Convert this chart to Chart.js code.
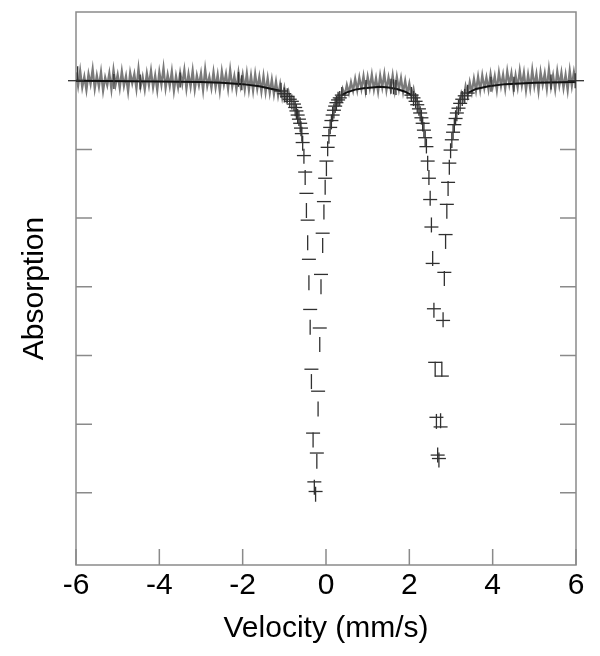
<!DOCTYPE html>
<html>
<head>
<meta charset="utf-8">
<script src="https://cdn.jsdelivr.net/npm/chart.js@4.4.1/dist/chart.umd.min.js"></script>
<style>
  html, body { margin: 0; padding: 0; background: #fff; }
  #chart { display: block; }
</style>
</head>
<body>
<canvas id="chart" width="600" height="656"></canvas>
<script>
// Mossbauer spectrum - velocity in mm/s, absorption in arbitrary units (0 = baseline)

// grey measured trace, one value per grid channel (null = hidden under the dip markers)
const VEL_START = -6;
const VEL_STEP = 0.05;
const greyAbs = [
  0.12, -0.08, 0.15, -0.10, 0.06, -0.14, 0.10, -0.05, 0.17, -0.12, 0.08, -0.09, 0.13, -0.15, 0.05, -0.07, 0.11, -0.13, 0.16, -0.06,
  0.09, -0.11, 0.14, -0.08, 0.07, -0.16, 0.12, -0.04, 0.10, -0.12, 0.18, -0.09, 0.06, -0.13, 0.11, -0.07, 0.15, -0.10, 0.08, -0.14,
  0.13, -0.06, 0.19, -0.11, 0.09, -0.08, 0.14, -0.15, 0.07, -0.10, 0.12, -0.05, 0.16, -0.12, 0.10, -0.09, 0.15, -0.13, 0.08, -0.07,
  0.11, -0.14, 0.17, -0.08, 0.06, -0.11, 0.13, -0.10, 0.09, -0.15, 0.14, -0.06, 0.10, -0.12, 0.16, -0.09, 0.07, -0.13, 0.12, -0.08,
  0.09, -0.13, 0.11, -0.14, 0.08, -0.15, 0.10, -0.12, 0.06, -0.16, 0.07, -0.17, 0.04, -0.18, 0.02, -0.20, -0.01, -0.22, -0.05, -0.25,
  -0.10, -0.28, -0.16, -0.30,
  null, null, null, null, null, null, null, null, null, null, null, null, null, null, null, null, null, null, null, null, null,
  -0.36, -0.22, -0.28, -0.12, -0.21, -0.06, -0.18, -0.02, -0.15, 0.03, -0.14, 0.05, -0.12, 0.07, -0.15, 0.06, -0.11, 0.09, -0.13, 0.04,
  -0.16, 0.08, -0.10, 0.10, -0.14, 0.05, -0.12, 0.08, -0.15, 0.06, -0.13, 0.04, -0.17, 0.00, -0.19, -0.04, -0.23, -0.12, -0.30, -0.20,
  null, null, null, null, null, null, null, null, null, null, null, null, null, null, null, null, null, null, null,
  -0.34, -0.18, -0.27, -0.08, -0.22, -0.02, -0.17, 0.03, -0.15, 0.06, -0.14, 0.08, -0.11, 0.05, -0.13, 0.10,
  -0.09, 0.07, -0.14, 0.12, -0.08, 0.09, -0.12, 0.14, -0.06, 0.11, -0.13, 0.08, -0.10, 0.15, -0.07, 0.12, -0.14, 0.09, -0.11, 0.16,
  -0.08, 0.10, -0.15, 0.13, -0.06, 0.11, -0.12, 0.17, -0.09, 0.08, -0.13, 0.14, -0.07, 0.12, -0.11, 0.09, -0.14, 0.15, -0.08, 0.13,
  -0.05
];

// fitted curve over the flat parts
const fitLineVel = [-6, -4, -3, -2.5, -2, -1.6, -1.3, -1.08, null,
  0.38, 0.5, 0.7, 0.9, 1.1, 1.3, 1.5, 1.7, 1.9, 2.05, null,
  3.4, 3.6, 3.9, 4.3, 5, 6];
const fitLineAbs = [0, -0.01, -0.02, -0.03, -0.05, -0.08, -0.12, -0.15, null,
  -0.21, -0.17, -0.13, -0.11, -0.10, -0.09, -0.10, -0.12, -0.16, -0.21, null,
  -0.18, -0.12, -0.08, -0.05, -0.03, -0.02];

// channels inside the two absorption lines
const dipVel = [
  -1.08, -1.00, -0.93, -0.87, -0.82, -0.77, -0.74, -0.71, -0.68, -0.65, -0.62, -0.60, -0.58, -0.56, -0.53,
  -0.50, -0.47, -0.44, -0.41, -0.38, -0.35, -0.31, -0.28, -0.25,
  -0.22, -0.19, -0.15, -0.12, -0.08, -0.05, -0.02, 0.01, 0.04, 0.07, 0.10, 0.13, 0.16, 0.19, 0.22, 0.25, 0.29, 0.33, 0.38,
  2.05, 2.10, 2.15, 2.19, 2.23, 2.26, 2.29, 2.32, 2.35, 2.38, 2.41, 2.44, 2.47, 2.50, 2.53, 2.56, 2.59, 2.62, 2.65, 2.68, 2.71,
  2.75, 2.78, 2.81, 2.84, 2.87, 2.90, 2.93, 2.96, 2.99, 3.02, 3.05, 3.08, 3.11, 3.14, 3.18, 3.22, 3.27, 3.33, 3.40
];
// fitted value per channel (horizontal marks)
const dipFit = [
  -0.15, -0.19, -0.23, -0.27, -0.30, -0.34, -0.39, -0.44, -0.50, -0.56, -0.62, -0.69, -0.77, -0.90, -1.09,
  -1.33, -1.64, -2.03, -2.60, -3.33, -4.20, -5.13, -5.84, -5.98,
  -5.42, -4.52, -3.60, -2.82, -2.22, -1.76, -1.42, -1.17, -0.97, -0.80, -0.68, -0.58, -0.50, -0.43, -0.37, -0.32, -0.28, -0.25, -0.21,
  -0.21, -0.25, -0.30, -0.35, -0.41, -0.47, -0.54, -0.62, -0.72, -0.83, -0.96, -1.17, -1.42, -1.73, -2.13, -2.66, -3.32, -4.10, -4.90, -5.45, -5.50,
  -5.04, -4.30, -3.49, -2.79, -2.24, -1.80, -1.48, -1.20, -1.01, -0.86, -0.75, -0.64, -0.55, -0.47, -0.40, -0.33, -0.27, -0.22, -0.18
];
// measured value per channel (vertical error marks)
const dipObs = [
  -0.14, -0.21, -0.22, -0.29, -0.31, -0.33, -0.41, -0.45, -0.52, -0.55, -0.64, -0.70, -0.78, -0.91, -1.10,
  -1.41, -1.89, -2.36, -2.94, -3.59, -4.38, -5.23, -5.92, -6.02,
  -5.54, -4.78, -3.84, -3.00, -2.40, -1.91, -1.55, -1.28, -0.99, -0.81, -0.67, -0.60, -0.49, -0.44, -0.36, -0.33, -0.27, -0.26, -0.20,
  -0.20, -0.26, -0.29, -0.36, -0.40, -0.48, -0.53, -0.63, -0.71, -0.84, -0.95, -1.20, -1.41, -1.71, -2.10, -2.59, -3.34, -4.20, -4.96, -5.45, -5.52,
  -4.95, -4.20, -3.48, -2.88, -2.34, -1.90, -1.57, -1.26, -1.02, -0.87, -0.74, -0.65, -0.54, -0.48, -0.39, -0.34, -0.26, -0.23, -0.17
];

// a few dark error marks along the baseline
const spikeVel = [-5.96, -5.09, -4.46, -3.50, -2.10, -2.02, 0.96, 1.56, 1.62, 1.68, 3.96, 4.51, 5.40, 5.98];
const spikeAbs = [0.10, -0.01, -0.02, 0.01, 0.02, -0.03, -0.10, -0.08, -0.09, -0.10, -0.05, -0.05, -0.02, 0.00];
const edgeVel = [-6, 6];
const edgeAbs = [0, 0];

const xTickVals = [-6, -4, -2, 0, 2, 4, 6];
const yTickVals = [0, -1, -2, -3, -4, -5, -6];
const TICK_LEN = 16;
const FONT = '"Liberation Sans", Arial, Helvetica, sans-serif';

const pairs = (xs, ys) => xs.map((x, i) => ({ x: x, y: ys[i] }));

const frameTicks = {
  id: 'frameTicks',
  beforeDatasetsDraw(chart) {
    const { ctx, chartArea: a, scales: { x, y } } = chart;
    ctx.save();
    ctx.strokeStyle = '#8a8a8a';
    ctx.lineWidth = 1.5;
    ctx.strokeRect(a.left, a.top, a.right - a.left, a.bottom - a.top);
    ctx.beginPath();
    xTickVals.forEach(v => {
      const px = x.getPixelForValue(v);
      ctx.moveTo(px, a.bottom);
      ctx.lineTo(px, a.bottom - TICK_LEN);
    });
    yTickVals.forEach(v => {
      const py = y.getPixelForValue(v);
      ctx.moveTo(a.left, py);
      ctx.lineTo(a.left + TICK_LEN, py);
      ctx.moveTo(a.right, py);
      ctx.lineTo(a.right - TICK_LEN, py);
    });
    ctx.stroke();
    ctx.restore();
  }
};

new Chart(document.getElementById('chart'), {
  type: 'scatter',
  data: {
    datasets: [
      {
        label: 'data',
        data: pairs(dipVel, dipObs).concat(pairs(spikeVel, spikeAbs)),
        pointStyle: 'line',
        rotation: 90,
        pointRadius: 7.5,
        borderColor: '#303030',
        backgroundColor: '#303030',
        borderWidth: 1.3,
        order: 1
      },
      {
        label: 'fit marks',
        data: pairs(dipVel, dipFit),
        pointStyle: 'line',
        pointRadius: 7,
        borderColor: '#303030',
        backgroundColor: '#303030',
        borderWidth: 1.3,
        order: 2
      },
      {
        label: 'edge marks',
        data: pairs(edgeVel, edgeAbs),
        pointStyle: 'line',
        pointRadius: 8,
        borderColor: '#303030',
        borderWidth: 1.3,
        clip: false,
        order: 2
      },
      {
        label: 'fit',
        data: pairs(fitLineVel, fitLineAbs),
        showLine: true,
        pointRadius: 0,
        borderColor: '#111111',
        borderWidth: 2,
        spanGaps: false,
        order: 3
      },
      {
        label: 'measured',
        data: greyAbs.map((v, i) => ({ x: VEL_START + i * VEL_STEP, y: v })),
        showLine: true,
        pointRadius: 0,
        borderColor: '#7a7a7a',
        borderWidth: 2.2,
        spanGaps: false,
        order: 4
      }
    ]
  },
  options: {
    responsive: false,
    animation: false,
    devicePixelRatio: 1,
    events: [],
    layout: { padding: { top: 12, right: 24, left: 0, bottom: 0 } },
    plugins: { legend: { display: false }, tooltip: { enabled: false } },
    scales: {
      x: {
        type: 'linear',
        min: -6,
        max: 6,
        grid: { display: false, drawTicks: false },
        border: { display: false },
        ticks: {
          stepSize: 2,
          padding: 3,
          color: '#000',
          font: { family: FONT, size: 30 }
        },
        title: {
          display: true,
          text: 'Velocity (mm/s)',
          color: '#000',
          font: { family: FONT, size: 30 },
          padding: { top: 0, bottom: 9 }
        },
        afterFit(scale) { scale.height = 91; }
      },
      y: {
        type: 'linear',
        min: -7.05,
        max: 1,
        grid: { display: false, drawTicks: false },
        border: { display: false },
        ticks: { display: false, stepSize: 1 },
        title: {
          display: true,
          text: 'Absorption',
          color: '#000',
          font: { family: FONT, size: 30 },
          padding: { top: 17, bottom: 0 }
        },
        afterFit(scale) { scale.width = 76; }
      }
    }
  },
  plugins: [frameTicks]
});
</script>
</body>
</html>
